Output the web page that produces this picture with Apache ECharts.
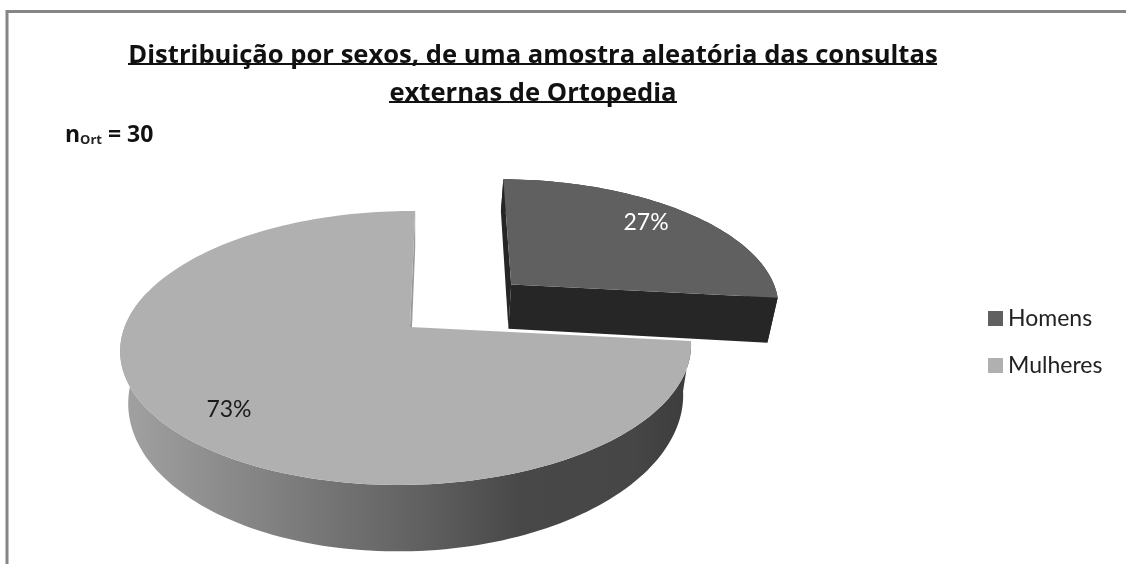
<!DOCTYPE html>
<html>
<head>
<meta charset="utf-8">
<title>Distribuição por sexos</title>
<script src="https://cdn.jsdelivr.net/npm/echarts@6/dist/echarts.min.js"></script>
<style>
  html, body { margin: 0; padding: 0; background: #fff; }
  #chart { width: 1126px; height: 564px; }
</style>
</head>
<body>
<div id="chart"></div>
<script>
const categories = ["Homens", "Mulheres"];
const values = [8, 22];
const sampleSize = 30;

const colors = ["#606060", "#b0b0b0"];
const font = "Lato, 'Open Sans', sans-serif";
const titleFont = "'Open Sans', Lato, sans-serif";

// disc projection, fitted by eye to the reference
const cx = 410, cy = 327, rx = 282, ry = 133.8, shear = 6;
const persp = 0.153, perspX = 0.012;
const depth = 49, lowerX = 0.972, lowerY = 1.054;
const explode = 0.5; // only the first slice is pulled out
const labelRadius = 0.8, labelTurn = -2.5;

const total = values.reduce((a, b) => a + b, 0);

function angleBefore(index) {
  let sum = 0;
  for (let i = 0; i < index; i++) sum += values[i];
  return (sum / total) * 360;
}

function project(x, y, low) {
  const w = 1 / (1 + persp * y + perspX * x);
  if (low) {
    return [cx + (rx * x * lowerX + shear * y) * w, cy + (-ry * y * lowerY + depth) * w];
  }
  return [cx + (rx * x + shear * y) * w, cy - ry * y * w];
}

function rad(deg) {
  return (deg * Math.PI) / 180;
}

// point on the disc at a clockwise angle from 12 o'clock
function disc(deg, radius, off, low) {
  return project(Math.sin(rad(deg)) * radius + off[0], Math.cos(rad(deg)) * radius + off[1], low);
}

function arcPoints(from, to, off, low) {
  const pts = [];
  const steps = Math.ceil(Math.abs(to - from) / 1.5);
  for (let i = 0; i <= steps; i++) pts.push(disc(from + ((to - from) * i) / steps, 1, off, low));
  return pts;
}

function poly(points, fill) {
  return { type: "polygon", shape: { points: points }, style: { fill: fill } };
}

function wall(deg, off, fill) {
  return poly(
    [disc(deg, 0, off, false), disc(deg, 1, off, false), disc(deg, 1, off, true), disc(deg, 0, off, true)],
    fill
  );
}

function makeRenderItem(index) {
  return function (params, api) {
    const value = api.value(0);
    const start = angleBefore(index);
    const end = start + (value / total) * 360;
    const mid = (start + end) / 2;
    const off = index === 0 ? [Math.sin(rad(mid)) * explode, Math.cos(rad(mid)) * explode] : [0, 0];
    const children = [];

    if (index === 0) {
      children.push(wall(start, off, "#262626"));
      children.push(poly(arcPoints(start, end, off, false).concat(arcPoints(end, start, off, true)), "#262626"));
      children.push(wall(end, off, "#262626"));
    } else {
      children.push(wall(end, off, "#999999"));
      // outer rim, only the front part can be seen
      const rim = arcPoints(start, 285, off, false).concat(arcPoints(285, start, off, true));
      const rimFill = new echarts.graphic.LinearGradient(1, 0, 0, 0, [
        { offset: 0, color: "#3c3c3c" },
        { offset: 0.1, color: "#464646" },
        { offset: 0.3, color: "#484848" },
        { offset: 0.47, color: "#606060" },
        { offset: 1, color: "#a2a2a2" }
      ]);
      children.push(poly(rim, rimFill));
    }

    const top = [disc(start, 0, off, false)].concat(arcPoints(start, end, off, false));
    children.push(poly(top, colors[index]));

    const at = disc(mid + labelTurn, labelRadius, off, false);
    children.push({
      type: "text",
      z2: 10,
      style: {
        text: Math.round((value / total) * 100) + "%",
        x: at[0],
        y: at[1],
        align: "center",
        verticalAlign: "middle",
        fill: index === 0 ? "#ffffff" : "#1a1a1a",
        font: "23px " + font
      }
    });
    return { type: "group", children: children };
  };
}

const chart = echarts.init(document.getElementById("chart"), null, { renderer: "canvas" });

chart.setOption({
  animation: false,
  backgroundColor: "#ffffff",
  title: [
    {
      text: "Distribuição por sexos, de uma amostra aleatória das consultas\nexternas de Ortopedia",
      left: 528,
      top: 32,
      textAlign: "center",
      textStyle: { fontFamily: titleFont, fontSize: 25.6, fontWeight: "bold", color: "#111", lineHeight: 38 }
    },
    {
      text: "{n|n}{sub|Ort}{n| = " + sampleSize + "}",
      left: 60,
      top: 119,
      textStyle: {
        rich: {
          n: { fontFamily: titleFont, fontSize: 23, fontWeight: "bold", color: "#111" },
          sub: { fontFamily: titleFont, fontSize: 13, color: "#222", verticalAlign: "bottom", padding: [10, 0, 0, 0] }
        }
      }
    }
  ],
  legend: {
    orient: "vertical",
    left: 983,
    top: 302,
    icon: "rect",
    itemWidth: 15,
    itemHeight: 15,
    itemGap: 24,
    data: categories,
    textStyle: { fontFamily: font, fontSize: 23, color: "#222" }
  },
  graphic: [
    {
      type: "polyline",
      silent: true,
      shape: { points: [[7, 564], [7, 11.5], [1126, 11.5]] },
      style: { stroke: "#868686", lineWidth: 3, fill: null }
    },
    { type: "line", silent: true, shape: { x1: 128, y1: 64, x2: 937, y2: 64 }, style: { stroke: "#111", lineWidth: 2 } },
    { type: "line", silent: true, shape: { x1: 389, y1: 102, x2: 677, y2: 102 }, style: { stroke: "#111", lineWidth: 2 } }
  ],
  series: categories.map((name, index) => ({
    name: name,
    type: "custom",
    coordinateSystem: "none",
    itemStyle: { color: colors[index] },
    data: [[values[index]]],
    renderItem: makeRenderItem(index)
  }))
});
</script>
</body>
</html>
